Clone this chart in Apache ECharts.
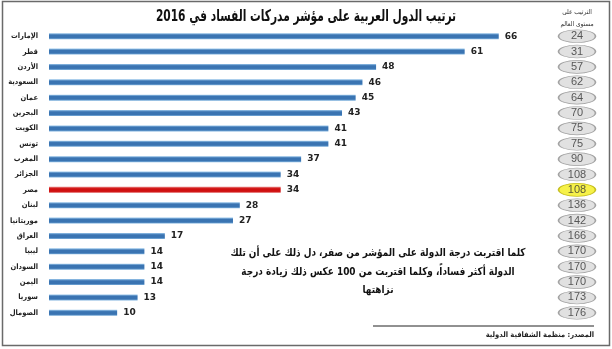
<!DOCTYPE html>
<html>
<head>
<meta charset="utf-8">
<script src="https://cdn.jsdelivr.net/npm/echarts@6/dist/echarts.min.js"></script>
<style>
  html, body { margin: 0; padding: 0; background: #fff; }
  #chart { width: 612px; height: 349px; }
</style>
</head>
<body>
<div id="chart"></div>
<script>
// Corruption Perceptions Index 2016 — Arab countries
const countries = ['الإمارات', 'قطر', 'الأردن', 'السعودية', 'عمان', 'البحرين', 'الكويت', 'تونس', 'المغرب', 'الجزائر', 'مصر', 'لبنان', 'موريتانيا', 'العراق', 'ليبيا', 'السودان', 'اليمن', 'سوريا', 'الصومال'];
const scores = [66, 61, 48, 46, 45, 43, 41, 41, 37, 34, 34, 28, 27, 17, 14, 14, 14, 13, 10];
const worldRanks = [24, 31, 57, 62, 64, 70, 75, 75, 90, 108, 108, 136, 142, 166, 170, 170, 170, 173, 176];
const highlighted = 'مصر';

const titleText = 'ترتيب الدول العربية على مؤشر مدركات الفساد في 2016';
const rankHeader = 'الترتيب على\nمستوى العالم';
const noteText = 'كلما اقتربت درجة الدولة على المؤشر من صفر، دل ذلك على أن تلك\nالدولة أكثر فساداً، وكلما اقتربت من 100 عكس ذلك زيادة درجة\nنزاهتها';
const sourceText = 'المصدر: منظمة الشفافية الدولية';

const AR_FONT = '"DejaVu Sans Condensed", "DejaVu Sans", sans-serif';

const blueBar = new echarts.graphic.LinearGradient(0, 0, 0, 1, [
  { offset: 0, color: '#9cc8ec' },
  { offset: 0.3, color: '#3a74b2' },
  { offset: 0.75, color: '#3a74b2' },
  { offset: 1, color: '#7fb2de' }
]);
const redBar = new echarts.graphic.LinearGradient(0, 0, 0, 1, [
  { offset: 0, color: '#e88080' },
  { offset: 0.3, color: '#d01010' },
  { offset: 0.75, color: '#d01010' },
  { offset: 1, color: '#e06060' }
]);

const chart = echarts.init(document.getElementById('chart'), null, { renderer: 'canvas' });

const gridTop = 28.5;
const gridHeight = 292;

chart.setOption({
  backgroundColor: '#ffffff',
  animation: false,
  grid: [
    { left: 49, top: gridTop, width: 477, height: gridHeight, containLabel: false },
    { left: 558, top: gridTop, width: 38, height: gridHeight, containLabel: false }
  ],
  xAxis: [
    { gridIndex: 0, type: 'value', min: 0, max: 70, show: false },
    { gridIndex: 1, type: 'value', min: -1, max: 1, show: false }
  ],
  yAxis: [
    {
      gridIndex: 0, type: 'category', data: countries, inverse: true,
      axisLine: { show: false }, axisTick: { show: false }, splitLine: { show: false },
      axisLabel: {
        margin: 11, fontSize: 7.5, fontWeight: 'bold', color: '#222', fontFamily: AR_FONT
      }
    },
    {
      gridIndex: 1, type: 'category', data: countries, inverse: true, show: false
    }
  ],
  series: [
    {
      type: 'bar', xAxisIndex: 0, yAxisIndex: 0, barWidth: 6,
      data: scores.map((v, i) => ({
        value: v,
        itemStyle: { color: countries[i] === highlighted ? redBar : blueBar }
      })),
      label: {
        show: true, position: 'right', distance: 6,
        fontSize: 9, fontWeight: 'bold', color: '#222', fontFamily: '"DejaVu Sans", sans-serif'
      }
    },
    {
      type: 'scatter', xAxisIndex: 1, yAxisIndex: 1,
      symbol: 'circle', symbolSize: [37, 13],
      data: worldRanks.map((r, i) => ({
        value: [0, i],
        rank: r,
        itemStyle: countries[i] === highlighted
          ? { color: '#f4ee1c', borderColor: '#b8b000', borderWidth: 1 }
          : { color: '#d9d9d9', borderColor: '#8f8f8f', borderWidth: 1 }
      })),
      label: {
        show: true, position: 'inside',
        formatter: p => String(p.data.rank),
        fontSize: 11, color: '#333', fontFamily: '"Liberation Sans Narrow", "Liberation Sans", sans-serif'
      }
    }
  ],
  graphic: [
    {
      type: 'rect', shape: { x: 2.5, y: 1.5, width: 607, height: 344 },
      style: { fill: 'none', stroke: '#6a6a6a', lineWidth: 1.5 }, silent: true
    },
    {
      type: 'text', x: 306, y: 17, scaleX: 0.74,
      style: {
        text: titleText, fill: '#111', align: 'center', verticalAlign: 'middle',
        font: 'bold 16px ' + AR_FONT
      }
    },
    {
      type: 'text', x: 577, y: 18,
      style: {
        text: rankHeader, fill: '#333', align: 'center', verticalAlign: 'middle',
        font: '6.5px ' + AR_FONT, lineHeight: 12
      }
    },
    {
      type: 'text', x: 378, y: 272, scaleX: 0.9,
      style: {
        text: noteText, fill: '#111', align: 'center', verticalAlign: 'middle',
        font: 'bold 11px ' + AR_FONT, lineHeight: 18.5
      }
    },
    {
      type: 'line', shape: { x1: 373, y1: 326, x2: 594, y2: 326 },
      style: { stroke: '#222', lineWidth: 1 }
    },
    {
      type: 'text', x: 594, y: 335,
      style: {
        text: sourceText, fill: '#222', align: 'right', verticalAlign: 'middle',
        font: 'bold 7.5px ' + AR_FONT
      }
    }
  ]
});
</script>
</body>
</html>
